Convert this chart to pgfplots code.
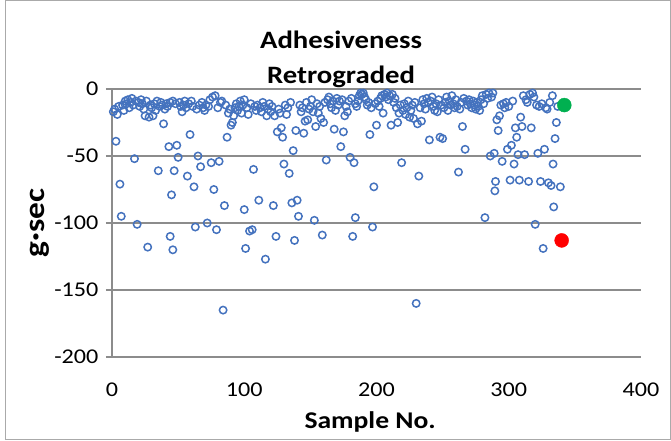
\documentclass[border=0pt]{standalone}
\usepackage{fontspec}
\setmainfont{Carlito}[FakeStretch=1.15]
\usepackage{pgfplots}
\pgfplotsset{compat=1.18}
\definecolor{ptblue}{RGB}{68,114,190}
\definecolor{ptgreen}{RGB}{0,176,80}
\definecolor{gridgray}{RGB}{140,140,140}
\definecolor{framegray}{RGB}{170,170,170}

% dense band near zero
\pgfplotstableread{
x y
1 -17
2 -15
4 -19
5 -13
8 -12
9 -16
10 -9
11 -11
12 -8
13 -14
14 -10
15 -7
16 -12
18 -9
20 -10
21 -13
22 -8
23 -11
24 -15
25 -20
26 -9
28 -21
29 -12
30 -14
31 -20
32 -11
33 -16
34 -9
36 -13
37 -10
38 -12
40 -15
41 -11
42 -13
44 -10
46 -9
48 -11
51 -10
52 -13
53 -17
54 -12
55 -9
56 -14
58 -11
60 -9
61 -13
64 -15
66 -12
68 -10
69 -14
70 -16
71 -12
73 -13
74 -8
76 -6
78 -5
80 -14
82 -10
83 -9
86 -12
88 -18
89 -15
91 -25
92 -20
93 -14
94 -11
95 -16
96 -13
97 -9
98 -18
99 -12
100 -8
102 -14
103 -19
105 -11
108 -13
109 -16
110 -12
112 -14
113 -17
114 -10
115 -13
117 -20
118 -15
119 -11
120 -17
121 -13
123 -20
126 -15
127 -18
131 -12
132 -19
133 -14
135 -10
142 -12
143 -17
144 -14
147 -10
149 -15
150 -13
151 -8
152 -17
155 -11
156 -18
157 -13
158 -22
160 -25
161 -10
163 -8
164 -6
165 -11
166 -14
167 -9
169 -16
170 -7
171 -12
172 -9
174 -8
176 -20
177 -13
178 -17
179 -9
181 -7
184 -11
185 -13
186 -9
187 -5
188 -3
189 -4
190 -3
191 -6
192 -8
193 -12
194 -10
196 -14
199 -11
201 -9
202 -13
203 -7
204 -5
205 -18
206 -4
207 -6
208 -3
209 -8
210 -5
212 -4
213 -10
214 -7
215 -14
217 -18
218 -12
220 -16
221 -11
222 -19
223 -14
224 -9
225 -21
226 -16
227 -12
228 -22
229 -10
231 -26
233 -14
234 -24
235 -8
236 -11
237 -15
238 -7
239 -10
241 -9
242 -6
243 -13
244 -16
245 -11
246 -17
247 -8
249 -12
251 -14
252 -10
253 -6
254 -16
255 -9
256 -12
257 -5
258 -11
259 -14
260 -8
261 -13
263 -15
264 -10
266 -7
268 -9
269 -12
270 -8
271 -11
272 -14
273 -9
274 -12
275 -15
276 -10
277 -13
278 -16
279 -8
280 -5
281 -11
283 -4
284 -7
285 -3
287 -6
288 -3
294 -12
296 -11
297 -14
298 -10
300 -13
303 -9
311 -5
313 -8
314 -10
316 -4
318 -3
319 -6
321 -12
323 -13
325 -11
328 -14
329 -15
331 -10
333 -5
337 -13
}\bandtable

% scattered lower values
\pgfplotstableread{
x y
3 -39
6 -71
7 -95
17 -52
19 -101
27 -118
35 -61
39 -26
43 -43
44 -110
45 -79
46 -120
47 -61
49 -42
50 -51
57 -65
59 -34
62 -73
63 -103
65 -50
67 -58
72 -100
75 -55
77 -75
79 -105
81 -54
84 -165
85 -87
87 -36
90 -27
100 -90
101 -119
104 -106
106 -105
107 -60
111 -83
116 -127
122 -87
124 -110
125 -32
128 -29
129 -36
130 -56
134 -63
136 -85
137 -46
138 -113
139 -31
140 -83
141 -95
145 -33
146 -24
148 -23
153 -98
154 -28
159 -109
162 -53
168 -30
173 -43
175 -32
180 -51
182 -110
183 -55
184 -96
195 -34
197 -103
198 -73
200 -27
211 -27
216 -25
219 -55
230 -160
232 -65
240 -38
248 -36
250 -37
262 -62
265 -28
267 -45
282 -96
286 -50
289 -48
289.5 -76
290 -69
291 -23
292 -31
293 -20
295 -54
299 -45
301 -68
302 -42
304 -56
305 -29
306 -36
307 -49
308 -68
309 -21
310 -28
312 -49
315 -69
317 -29
320 -101
322 -48
324 -69
326 -119
327 -45
330 -70
332 -72
333.5 -56
334 -88
335 -37
336 -25
339 -73
}\outliertable

\begin{document}
\begin{tikzpicture}[x=1pt,y=1pt]
\path[use as bounding box] (0,0) rectangle (671,441);
\draw[framegray,line width=1pt] (5,1) rectangle (670.5,440);
\begin{axis}[
  at={(112pt,84pt)}, anchor=south west,
  scale only axis, width=529pt, height=268pt,
  xmin=0, xmax=400, ymin=-200, ymax=0,
  xtick={0,100,...,400}, ytick={-200,-150,...,0},
  axis lines*=left,
  axis line style={draw=gridgray,line width=1.5pt},
  ymajorgrids, grid style={draw=gridgray,line width=1.5pt},
  ytick style={draw=gridgray,line width=1.5pt},
  tick align=outside, major tick length=6pt,
  xtick style={draw=none},
  /pgf/number format/assume math mode=true,
  ticklabel style={font=\fontsize{21}{21}\selectfont},
  xticklabel style={yshift=-16pt},
  yticklabel style={xshift=-4pt},
  clip=false,
  xlabel={\textbf{Sample No.}},
  xlabel style={at={(axis description cs:0.488,0)},anchor=center,yshift=-65pt,font=\fontsize{24}{24}\selectfont},
]
\addplot[only marks, mark=o, mark size=3.7pt, ptblue, line width=1.5pt] table {\bandtable};
\addplot[only marks, mark=o, mark size=3.7pt, ptblue, line width=1.5pt] table {\outliertable};
\addplot[only marks, mark=*, mark size=7pt, draw=ptgreen, fill=ptgreen] coordinates {(342,-12)};
\addplot[only marks, mark=*, mark size=7pt, draw=red, fill=red] coordinates {(340,-113)};
\node[align=center,anchor=center,font=\fontsize{25}{35}\selectfont\bfseries] at (axis description cs:0.433,1) [yshift=30pt] {Adhesiveness\\Retrograded};
\node[rotate=90,anchor=center,font=\fontsize{29}{29}\selectfont\bfseries] at (axis description cs:-0.136,0.5) {g·sec};
\end{axis}
\end{tikzpicture}
\end{document}
